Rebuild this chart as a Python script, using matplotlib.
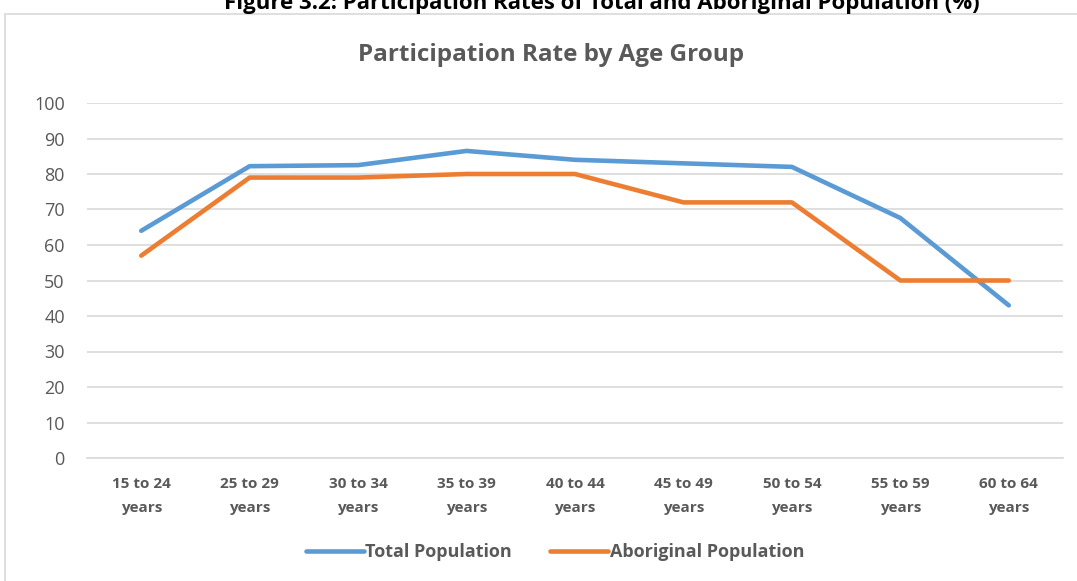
import matplotlib
matplotlib.use("Agg")
import matplotlib.pyplot as plt
from matplotlib.patches import Rectangle

categories = ["15 to 24\nyears", "25 to 29\nyears", "30 to 34\nyears", "35 to 39\nyears",
              "40 to 44\nyears", "45 to 49\nyears", "50 to 54\nyears", "55 to 59\nyears",
              "60 to 64\nyears"]
total_population = [64, 82.2, 82.5, 86.5, 84, 83, 82, 67.6, 43]
aboriginal_population = [57, 79, 79, 80, 80, 72, 72, 50, 50]
y_ticks = [0, 10, 20, 30, 40, 50, 60, 70, 80, 90, 100]

plt.rcParams["font.family"] = ["Open Sans", "DejaVu Sans"]

W, H = 1077, 581
fig = plt.figure(figsize=(W / 100, H / 100), dpi=100)

# chart frame
fig.patches.append(Rectangle((5 / W, -0.1), 1.2, 1 - 14 / H + 0.1, transform=fig.transFigure,
                             fill=False, edgecolor="#D9D9D9", linewidth=1.2))

fig.text(602 / W, 1 - 9 / H, "Figure 3.2: Participation Rates of Total and Aboriginal Population (%)",
         ha="center", va="baseline", fontsize=16, fontweight="bold", color="black")
fig.text(551 / W, 1 - 55 / H, "Participation Rate by Age Group", ha="center", va="center",
         fontsize=17.5, fontweight="bold", color="#595959")

ax = fig.add_axes([87 / W, 1 - 458 / H, (1063 - 87) / W, (458 - 103) / H])
x = range(len(categories))
ax.plot(x, total_population, color="#5B9BD5", linewidth=3.3, solid_capstyle="round",
        solid_joinstyle="round", label="Total Population")
ax.plot(x, aboriginal_population, color="#ED7D31", linewidth=3.3, solid_capstyle="round",
        solid_joinstyle="round", label="Aboriginal Population")

ax.set_xlim(-0.5, len(categories) - 0.5)
ax.set_ylim(0, 100)
ax.set_yticks(y_ticks)
ax.set_xticks(list(x))
ax.set_xticklabels(categories, fontsize=11, fontweight="bold", color="#595959", linespacing=1.9)
ax.tick_params(axis="y", labelsize=13, labelcolor="#595959", length=0, pad=16)
ax.tick_params(axis="x", length=0, pad=14)
ax.grid(axis="y", color="#D9D9D9", linewidth=1.2)
ax.set_axisbelow(True)
for s in ax.spines.values():
    s.set_visible(False)
ax.spines["bottom"].set_visible(True)
ax.spines["bottom"].set_color("#D9D9D9")
ax.spines["bottom"].set_linewidth(1.2)

leg = fig.legend(loc="center", bbox_to_anchor=(555 / W, 1 - 552 / H), ncol=2, frameon=False,
                 prop={"size": 13, "weight": "bold"}, handlelength=3.2, columnspacing=2.1,
                 handletextpad=0.1)
for t in leg.get_texts():
    t.set_color("#595959")

fig.savefig("out.png", dpi=100)
